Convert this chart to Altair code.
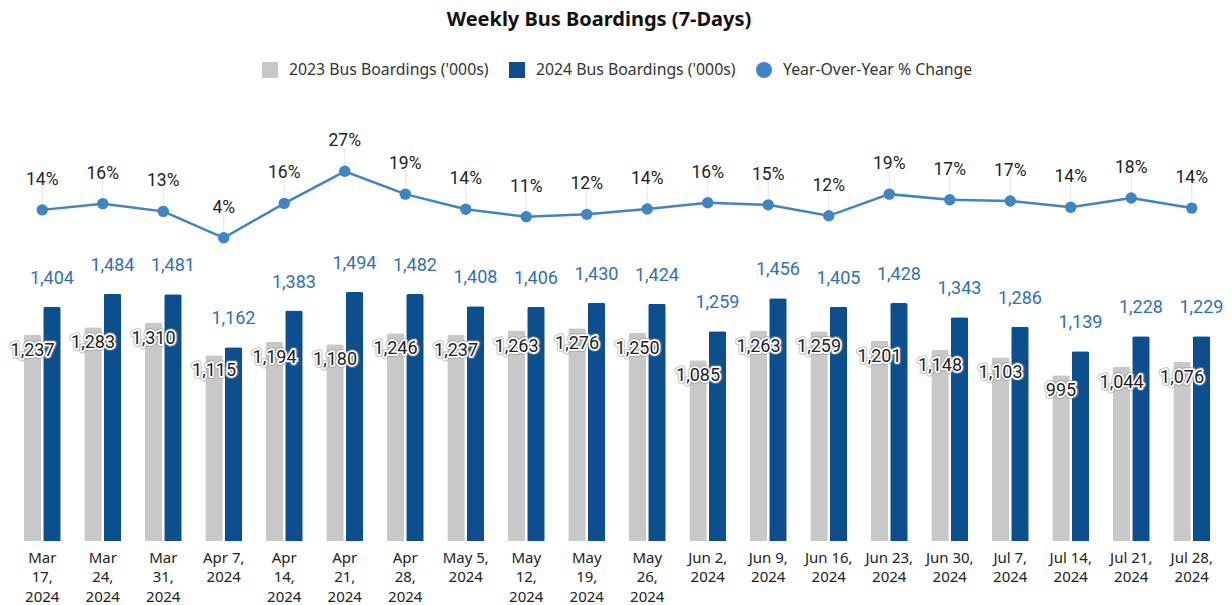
import altair as alt
import pandas as pd

weeks = [
    "Mar|17,|2024", "Mar|24,|2024", "Mar|31,|2024", "Apr 7,|2024", "Apr|14,|2024",
    "Apr|21,|2024", "Apr|28,|2024", "May 5,|2024", "May|12,|2024", "May|19,|2024",
    "May|26,|2024", "Jun 2,|2024", "Jun 9,|2024", "Jun 16,|2024", "Jun 23,|2024",
    "Jun 30,|2024", "Jul 7,|2024", "Jul 14,|2024", "Jul 21,|2024", "Jul 28,|2024",
]
b2023 = [1237, 1283, 1310, 1115, 1194, 1180, 1246, 1237, 1263, 1276,
         1250, 1085, 1263, 1259, 1201, 1148, 1103, 995, 1044, 1076]
b2024 = [1404, 1484, 1481, 1162, 1383, 1494, 1482, 1408, 1406, 1430,
         1424, 1259, 1456, 1405, 1428, 1343, 1286, 1139, 1228, 1229]
yoy = [0.136, 0.157, 0.131, 0.042, 0.158, 0.266, 0.189, 0.138, 0.113, 0.121,
       0.139, 0.160, 0.153, 0.116, 0.189, 0.170, 0.166, 0.145, 0.176, 0.142]

s23 = "2023 Bus Boardings ('000s)"
s24 = "2024 Bus Boardings ('000s)"
syoy = "Year-Over-Year % Change"

GRAY = "#c8c8c8"
BLUE = "#0b4f8e"
LBLUE = "#3d85c6"
FONT = "Noto Sans"
NUMFONT = "Roboto"

bars_df = pd.DataFrame({
    "week": weeks * 2,
    "series": [s23] * len(weeks) + [s24] * len(weeks),
    "value": b2023 + b2024,
})
line_df = pd.DataFrame({"week": weeks, "series": [syoy] * len(weeks), "pct": yoy})

x = alt.X(
    "week:N", sort=weeks,
    scale=alt.Scale(paddingInner=0.39, paddingOuter=0.195),
    axis=alt.Axis(title=None, labelExpr="split(datum.label, '|')", labelAngle=0,
                  domain=False, ticks=False, labelFont=FONT, labelFontSize=15,
                  labelColor="#222", labelLineHeight=19.5, labelPadding=9,
                  labelBaseline="top"),
)
xoff = alt.XOffset("series:N", sort=[s23, s24],
                   scale=alt.Scale(domain=[s23, s24], paddingInner=0.1))
ybar = alt.Y("value:Q", scale=alt.Scale(domain=[0, 2646]), axis=None)
yline = alt.Y("pct:Q", scale=alt.Scale(domain=[-0.979, 0.506]), axis=None)

leg = alt.Legend(title=None, orient="none", legendX=250, legendY=-38,
                 direction="horizontal", symbolSize=256, labelFontSize=15.8,
                 labelFont=FONT, labelColor="#333", columnPadding=20,
                 labelOffset=11, symbolStrokeWidth=0, labelLimit=400)
dom = [s23, s24, syoy]
color = alt.Color("series:N", scale=alt.Scale(domain=dom, range=[GRAY, BLUE, LBLUE]), legend=leg)
shape = alt.Shape("series:N", scale=alt.Scale(domain=dom, range=["square", "square", "circle"]), legend=leg)

bars = alt.Chart(bars_df).mark_bar(cornerRadiusTopLeft=2, cornerRadiusTopRight=2).encode(
    x=x, xOffset=xoff, y=ybar, color=color)

blue_lbl = alt.Chart(bars_df).transform_filter(alt.datum.series == s24).mark_text(
    dy=-28, font=NUMFONT, fontSize=18, color="#2f70b7").encode(
    x=x, xOffset=xoff, y=ybar, text=alt.Text("value:Q", format=","))

gray_base = alt.Chart(bars_df).transform_filter(alt.datum.series == s23)
gray_shadow = gray_base.mark_text(dy=16, font=NUMFONT, fontSize=18, color="#999",
                                  stroke="#999", strokeWidth=6, strokeOpacity=0.5,
                                  strokeJoin="round").encode(
    x=x, xOffset=xoff, y=ybar, text=alt.Text("value:Q", format=","))
gray_halo = gray_base.mark_text(dy=16, font=NUMFONT, fontSize=18, color="white",
                                stroke="white", strokeWidth=3.5, strokeJoin="round").encode(
    x=x, xOffset=xoff, y=ybar, text=alt.Text("value:Q", format=","))
gray_lbl = gray_base.mark_text(dy=16, font=NUMFONT, fontSize=18, color="#222").encode(
    x=x, xOffset=xoff, y=ybar, text=alt.Text("value:Q", format=","))

bar_layer = alt.layer(bars, blue_lbl, gray_shadow, gray_halo, gray_lbl)

base_line = alt.Chart(line_df)
leader = base_line.transform_calculate(top="datum.pct + 0.08").mark_rule(
    color="#e3e3e3", strokeWidth=1).encode(x=x, y=yline, y2="top:Q")
line = base_line.mark_line(color=LBLUE, strokeWidth=2.5).encode(x=x, y=yline)
points = base_line.mark_point(filled=True, size=130, opacity=1).encode(
    x=x, y=yline, color=color, shape=shape)
pct_lbl = base_line.mark_text(dy=-30, font=NUMFONT, fontSize=17.5, color="#222").encode(
    x=x, y=yline, text=alt.Text("pct:Q", format=".0%"))

line_layer = alt.layer(leader, line, points, pct_lbl)

chart = alt.layer(bar_layer, line_layer).resolve_scale(y="independent").properties(
    width=1210, height=441,
    autosize=alt.AutoSizeParams(type="none"),
    padding={"left": 12, "top": 100, "right": 10, "bottom": 64},
    title=alt.TitleParams("Weekly Bus Boardings (7-Days)", font=FONT, fontSize=20,
                          fontWeight="bold", color="#111", anchor="middle",
                          offset=32, dx=-18),
).configure_view(stroke=None)

chart.save("out.html", embed_options={"renderer": "svg", "actions": False})
